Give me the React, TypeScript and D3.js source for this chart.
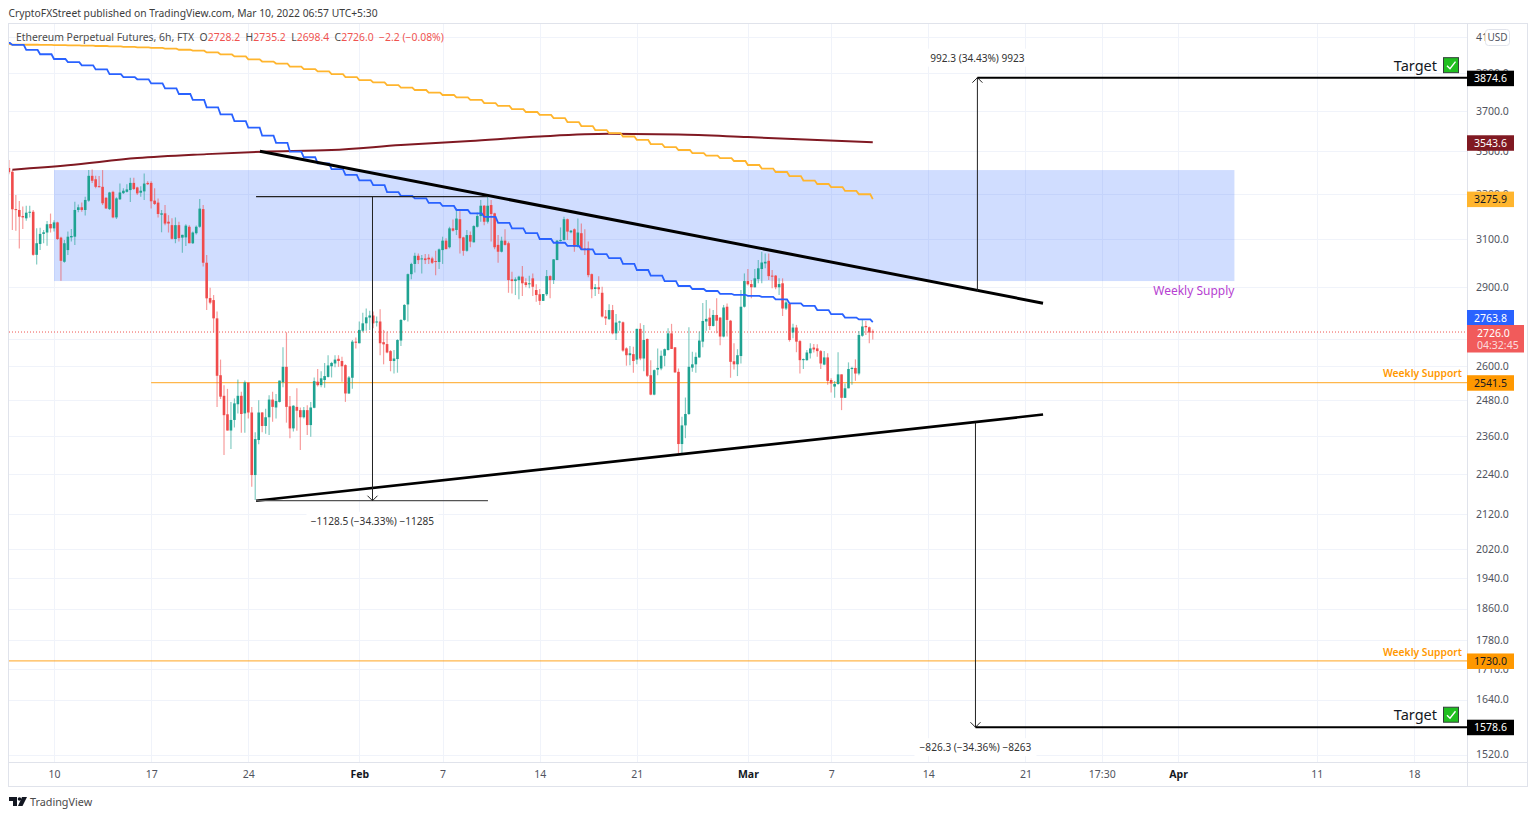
import React, { useEffect, useRef } from 'react';
import * as d3 from 'd3';

// 6h candles, first one is Jan 6 18:00, each row holds ten bars
const highs = [
  3458,3410,3294,3267,3242,3246,3246,3227,3146,3149,
  3139,3178,3211,3182,3175,3110,3096,3132,3143,3264,
  3252,3260,3287,3410,3413,3383,3382,3410,3284,3309,
  3314,3284,3347,3325,3344,3374,3374,3332,3335,3394,
  3358,3358,3325,3279,3227,3249,3204,3190,3194,3175,
  3118,3164,3160,3132,3158,3276,3249,3032,2898,2869,
  2804,2624,2533,2520,2475,2487,2553,2510,2549,2542,
  2458,2373,2481,2441,2452,2498,2510,2502,2549,2669,
  2725,2495,2464,2522,2456,2458,2464,2475,2560,2590,
  2582,2612,2640,2616,2640,2640,2634,2607,2565,2696,
  2705,2766,2800,2816,2807,2804,2785,2813,2734,2728,
  2659,2659,2699,2775,2833,2956,3000,3042,3039,3032,
  3036,3035,3025,3050,3060,3110,3103,3153,3185,3234,
  3227,3110,3139,3132,3160,3216,3272,3249,3287,3272,
  3215,3117,3110,3142,3089,2963,2940,2947,2987,2936,
  2947,2956,2912,2893,2873,2970,2949,3015,3096,3150,
  3197,3189,3139,3146,3189,3167,3142,3089,2956,2913,
  2945,2902,2810,2833,2830,2795,2769,2766,2669,2674,
  2671,2738,2759,2753,2702,2622,2588,2665,2657,2665,
  2740,2757,2669,2592,2425,2490,2744,2653,2650,2728,
  2838,2849,2816,2810,2856,2782,2830,2836,2772,2684,
  2662,2889,2956,2974,2929,2974,3011,3046,3039,3039,
  2970,2950,2936,2936,2849,2837,2757,2753,2696,2628,
  2659,2684,2681,2680,2659,2655,2647,2557,2548,2651,
  2571,2539,2614,2598,2625,2730,2772,2768,2747,2735.2,
];
const lows = [
  3390,3139,3136,3060,3143,3179,3194,3029,2993,3053,
  3082,3071,3128,3132,3096,2926,3000,3032,3089,3075,
  3217,3219,3202,3264,3350,3325,3329,3249,3231,3227,
  3190,3187,3272,3299,3306,3263,3317,3294,3287,3272,
  3340,3234,3249,3194,3129,3160,3128,3098,3082,3089,
  3042,3070,3082,3079,3119,3149,2984,2810,2833,2724,
  2458,2485,2300,2379,2319,2389,2436,2372,2372,2419,
  2201,2161,2334,2373,2368,2364,2408,2419,2473,2526,
  2405,2354,2376,2378,2316,2419,2364,2359,2453,2528,
  2526,2524,2560,2560,2596,2598,2545,2475,2502,2520,
  2665,2684,2725,2731,2734,2740,2747,2640,2607,2647,
  2582,2574,2577,2674,2769,2766,2932,2960,2995,2956,
  2995,2995,2995,2949,2974,2995,3056,3060,3132,3117,
  3039,3029,3046,3065,3085,3150,3175,3160,3167,3089,
  3056,3000,3043,3072,2878,2875,2869,2852,2865,2900,
  2896,2865,2843,2830,2845,2865,2856,2913,3011,3089,
  3093,3096,3125,3046,3064,3053,3032,2940,2856,2865,
  2873,2781,2753,2772,2717,2696,2731,2653,2602,2604,
  2577,2607,2622,2582,2562,2498,2498,2568,2586,2600,
  2657,2663,2577,2305,2300,2354,2431,2580,2577,2631,
  2669,2731,2734,2747,2721,2677,2706,2709,2559,2588,
  2565,2610,2820,2907,2856,2899,2916,2916,2977,2929,
  2896,2892,2869,2787,2810,2690,2703,2651,2574,2590,
  2620,2628,2650,2634,2590,2604,2534,2507,2489,2534,
  2447,2489,2522,2534,2548,2568,2708,2715,2684,2698.4,
];
const opens = [
  3420,3402,3231,3227,3200,3190,3215,3219,3033,3079,
  3122,3128,3165,3146,3172,3106,3004,3053,3107,3110,
  3227,3239,3227,3269,3383,3367,3335,3332,3282,3231,
  3309,3194,3275,3303,3309,3317,3350,3329,3305,3311,
  3350,3350,3269,3260,3206,3212,3175,3160,3100,3160,
  3106,3107,3153,3082,3125,3153,3231,3000,2857,2849,
  2778,2568,2496,2433,2379,2414,2467,2496,2436,2542,
  2439,2237,2348,2439,2394,2423,2483,2456,2475,2543,
  2598,2460,2386,2458,2447,2423,2447,2397,2455,2545,
  2533,2551,2562,2600,2610,2627,2619,2604,2504,2559,
  2690,2684,2731,2759,2781,2789,2763,2766,2688,2681,
  2655,2619,2626,2694,2772,2832,2953,2995,3029,3014,
  3018,3021,3018,3007,3003,3053,3093,3065,3146,3139,
  3186,3107,3050,3117,3086,3153,3200,3246,3175,3249,
  3212,3075,3046,3093,3082,2932,2925,2929,2943,2920,
  2912,2936,2889,2872,2846,2872,2945,2929,3011,3092,
  3096,3186,3129,3142,3067,3125,3060,3060,2953,2893,
  2900,2878,2785,2775,2810,2721,2762,2763,2665,2640,
  2644,2624,2738,2628,2700,2568,2500,2588,2592,2638,
  2659,2721,2669,2580,2335,2396,2434,2595,2607,2632,
  2690,2766,2781,2749,2791,2781,2709,2823,2769,2618,
  2607,2637,2823,2925,2913,2900,2933,2974,2997,3008,
  2947,2947,2900,2916,2816,2834,2724,2743,2692,2622,
  2622,2647,2668,2665,2655,2606,2632,2551,2528,2537,
  2571,2489,2522,2590,2594,2574,2712,2749,2744,2728.2,
];
const closes = [
  3400,3230,3227,3197,3194,3215,3219,3033,3082,3122,
  3129,3164,3146,3172,3100,3008,3082,3110,3113,3227,
  3239,3227,3272,3383,3360,3332,3331,3257,3234,3306,
  3194,3279,3306,3314,3320,3350,3322,3302,3314,3347,
  3344,3266,3254,3209,3212,3167,3167,3101,3160,3104,
  3118,3158,3082,3128,3153,3233,3000,2856,2839,2778,
  2566,2493,2430,2379,2414,2470,2496,2434,2543,2439,
  2237,2351,2439,2394,2423,2483,2458,2478,2549,2598,
  2458,2386,2462,2445,2423,2447,2397,2456,2547,2533,
  2557,2565,2603,2612,2624,2619,2600,2504,2560,2690,
  2686,2734,2759,2782,2789,2759,2766,2684,2680,2650,
  2619,2628,2696,2772,2830,2953,2995,3029,3011,3018,
  3011,3014,3000,3003,3056,3093,3057,3146,3136,3189,
  3103,3050,3117,3089,3156,3200,3246,3175,3246,3209,
  3065,3046,3093,3075,2929,2925,2932,2943,2916,2909,
  2916,2902,2869,2846,2873,2945,2929,3014,3093,3096,
  3186,3132,3136,3067,3128,3056,3053,2949,2892,2900,
  2892,2785,2778,2810,2721,2762,2766,2657,2640,2647,
  2619,2738,2628,2696,2566,2500,2586,2594,2638,2662,
  2721,2663,2578,2335,2396,2434,2598,2607,2634,2694,
  2768,2776,2749,2791,2769,2709,2820,2772,2616,2607,
  2640,2823,2925,2912,2900,2936,2977,3001,3004,2945,
  2943,2900,2913,2816,2840,2696,2743,2690,2622,2626,
  2650,2665,2661,2655,2610,2632,2548,2539,2537,2571,
  2489,2522,2590,2594,2574,2715,2747,2744,2724,2726,
];

// daily stepped moving averages, first value is Jan 6
const blueMa = [
  4065,4054,4026,4002,3976,3959,3941,3919,3894,3878,3866,3844,3818,3788,3757,3719,
  3683,3649,3616,3576,3541,3498,3471,3442,3414,3387,3362,3340,3308,3290,3279,3259,
  3245,3227,3212,3196,3170,3146,3125,3100,3084,3071,3056,3036,3019,2995,2970,2947,
  2925,2905,2893,2885,2874,2870,2866,2862,2852,2836,2826,2810,2794,2781,2774,2763.8,
];
const orangeMa = [
  4058,4056,4055,4054,4053,4052,4050,4048,4046,4043,4040,4037,4033,4027,4022,4012,
  4001,3990,3974,3962,3951,3934,3921,3908,3894,3878,3862,3849,3835,3822,3809,3795,
  3783,3770,3757,3741,3726,3710,3695,3680,3664,3644,3624,3604,3589,3572,3555,3535,
  3520,3506,3491,3479,3467,3453,3434,3417,3401,3382,3361,3345,3331,3313,3298,3275.9,
];
const maroonDays = [-3, 1, 6, 11, 15, 20, 25, 30, 35, 40, 45, 50, 55, 59];
const maroonMa = [3412, 3433, 3467, 3486, 3498, 3506, 3530, 3550, 3572, 3585, 3582, 3569, 3555, 3543.6];

// axis labels
const priceTicks = [4100, 3900, 3700, 3500, 3300, 3100, 2900, 2700, 2600, 2480, 2360, 2240, 2120, 2020, 1940, 1860, 1780, 1710, 1640, 1520];
const hiddenPriceLabels = [2700]; // sits fully behind the last price tag
const timeDays = [0, 7, 14, 22, 28, 35, 42, 50, 56, 63, 70, 75.5, 81, 91, 98];
const timeLabels = ['10', '17', '24', 'Feb', '7', '14', '21', 'Mar', '7', '14', '21', '17:30', 'Apr', '11', '18'];
const boldLabels = ['Feb', 'Mar', 'Apr'];

// drawings, day is counted from Jan 10
const upperTrendDays = [14.84, 71.27];
const upperTrendPrices = [3500, 2837];
const lowerTrendDays = [14.56, 71.27];
const lowerTrendPrices = [2159, 2432];
const supplyDays = [0, 85.06];
const supplyPrices = [3410, 2925];

const FONT = '"Noto Sans", sans-serif';
const RED = '#f04b4b';
const GREEN = '#1fa392';
const JAN10 = Date.UTC(2022, 0, 10);
const dayToDate = (d: number) => new Date(JAN10 + d * 86400000);

const App: React.FC = () => {
  const svgRef = useRef<SVGSVGElement>(null);

  useEffect(() => {
    if (!svgRef.current) return;
    const svg = d3.select(svgRef.current);
    svg.selectAll('*').remove();

    const plot = { left: 9, right: 1467, top: 24, bottom: 762 };
    const x = d3.scaleTime()
      .domain([dayToDate(-3.243), dayToDate(101.82)])
      .range([plot.left, plot.right]);
    const y = d3.scaleLog()
      .domain([4173, 1504.5])
      .range([plot.top, plot.bottom]);
    const xd = (d: number) => x(dayToDate(d));

    svg.append('defs').append('clipPath').attr('id', 'plot-clip')
      .append('rect')
      .attr('x', plot.left).attr('y', plot.top)
      .attr('width', plot.right - plot.left).attr('height', plot.bottom - plot.top);

    svg.append('rect').attr('width', 1536).attr('height', 817).attr('fill', '#fff');

    // grid
    const grid = svg.append('g').attr('stroke', '#f0f3fa').attr('stroke-width', 1);
    priceTicks.forEach(p => {
      const py = Math.round(y(p)) + 0.5;
      grid.append('line').attr('x1', plot.left).attr('x2', plot.right).attr('y1', py).attr('y2', py);
    });
    timeDays.forEach(d => {
      const px = Math.round(xd(d)) + 0.5;
      grid.append('line').attr('x1', px).attr('x2', px).attr('y1', plot.top).attr('y2', plot.bottom);
    });

    const chart = svg.append('g').attr('clip-path', 'url(#plot-clip)');

    // supply zone
    chart.append('rect')
      .attr('x', xd(supplyDays[0]))
      .attr('y', y(supplyPrices[0]))
      .attr('width', xd(supplyDays[1]) - xd(supplyDays[0]))
      .attr('height', y(supplyPrices[1]) - y(supplyPrices[0]))
      .attr('fill', '#2962ff')
      .attr('fill-opacity', 0.22);

    // horizontal support lines
    chart.append('line')
      .attr('x1', xd(7)).attr('x2', plot.right)
      .attr('y1', y(2541.5)).attr('y2', y(2541.5))
      .attr('stroke', '#ff9800').attr('stroke-opacity', 0.7).attr('stroke-width', 1.2);
    chart.append('line')
      .attr('x1', plot.left).attr('x2', plot.right)
      .attr('y1', y(1730)).attr('y2', y(1730))
      .attr('stroke', '#ff9800').attr('stroke-opacity', 0.7).attr('stroke-width', 1.2);

    // last price line
    chart.append('line')
      .attr('x1', plot.left).attr('x2', plot.right)
      .attr('y1', y(2726)).attr('y2', y(2726))
      .attr('stroke', '#ef5350').attr('stroke-width', 1).attr('stroke-dasharray', '1,2');

    // candles
    highs.forEach((h, i) => {
      const cx = xd((i - 13) / 4);
      const color = closes[i] >= opens[i] ? GREEN : RED;
      const top = Math.max(opens[i], closes[i]);
      const bottom = Math.min(opens[i], closes[i]);
      chart.append('line')
        .attr('x1', cx).attr('x2', cx)
        .attr('y1', y(h)).attr('y2', y(lows[i]))
        .attr('stroke', color).attr('stroke-opacity', 0.55).attr('stroke-width', 1.2);
      chart.append('rect')
        .attr('x', cx - 1.3)
        .attr('y', y(top))
        .attr('width', 2.6)
        .attr('height', Math.max(1, y(bottom) - y(top)))
        .attr('fill', color);
    });

    // stepped averages hold their value most of the day, then move to the next one
    const stepped = (values: number[]) => {
      const pts: [number, number][] = [];
      values.forEach((v, i) => {
        const day = i - 4;
        pts.push([xd(i === 0 ? -3.243 : day), y(v)]);
        if (i < values.length - 1) pts.push([xd(day + 0.82), y(v)]);
      });
      return pts;
    };
    const straight = d3.line();
    chart.append('path')
      .attr('d', d3.line().curve(d3.curveMonotoneX)(maroonMa.map((v, i) => [xd(maroonDays[i]), y(v)] as [number, number])))
      .attr('fill', 'none').attr('stroke', '#801922').attr('stroke-width', 2);
    chart.append('path')
      .attr('d', straight(stepped(orangeMa)))
      .attr('fill', 'none').attr('stroke', '#ffb52e').attr('stroke-width', 1.8);
    chart.append('path')
      .attr('d', straight(stepped(blueMa)))
      .attr('fill', 'none').attr('stroke', '#2962ff').attr('stroke-width', 1.8);

    // trend lines
    chart.append('line')
      .attr('x1', xd(upperTrendDays[0])).attr('x2', xd(upperTrendDays[1]))
      .attr('y1', y(upperTrendPrices[0])).attr('y2', y(upperTrendPrices[1]))
      .attr('stroke', '#000').attr('stroke-width', 3);
    chart.append('line')
      .attr('x1', xd(lowerTrendDays[0])).attr('x2', xd(lowerTrendDays[1]))
      .attr('y1', y(lowerTrendPrices[0])).attr('y2', y(lowerTrendPrices[1]))
      .attr('stroke', '#000').attr('stroke-width', 2.6);

    // price range tools
    const thin = (d1: number, p1: number, d2: number, p2: number, w = 1, color = '#222') => {
      chart.append('line')
        .attr('x1', xd(d1)).attr('x2', xd(d2))
        .attr('y1', y(p1)).attr('y2', y(p2))
        .attr('stroke', color).attr('stroke-width', w);
    };
    const arrow = (d: number, p: number, dir: number) => {
      const ax = xd(d);
      const ay = y(p);
      chart.append('path')
        .attr('d', `M${ax - 5},${ay + dir * 5}L${ax},${ay}L${ax + 5},${ay + dir * 5}`)
        .attr('fill', 'none').attr('stroke', '#222').attr('stroke-width', 1);
    };
    const rangeLabel = (d: number, p: number, dy: number, label: string, w: number) => {
      chart.append('rect')
        .attr('x', xd(d) - w / 2).attr('y', y(p) + dy - 9)
        .attr('width', w).attr('height', 18).attr('fill', '#fff');
      chart.append('text')
        .attr('x', xd(d)).attr('y', y(p) + dy + 4)
        .attr('text-anchor', 'middle')
        .attr('font-family', FONT).attr('font-size', 10.1).attr('fill', '#333')
        .text(label);
    };

    thin(14.56, 3287.5, 31.27, 3287.5, 1.2);
    thin(14.56, 2159, 31.27, 2159, 1.2, '#555');
    thin(22.95, 3287.5, 22.95, 2159);
    arrow(22.95, 2159, -1);
    rangeLabel(22.95, 2159, 20, '\u22121128.5 (\u221234.33%) \u221211285', 132);

    thin(66.54, 2882.3, 66.54, 3874.6);
    arrow(66.54, 3874.6, 1);
    thin(66.54, 3874.6, 101.82, 3874.6, 2, '#000');
    rangeLabel(66.54, 3874.6, -20, '992.3 (34.43%) 9923', 104);

    thin(66.4, 2404.9, 66.4, 1578.6);
    arrow(66.4, 1578.6, -1);
    thin(66.4, 1578.6, 101.82, 1578.6, 2, '#000');
    rangeLabel(66.4, 1578.6, 20, '\u2212826.3 (\u221234.36%) \u22128263', 122);

    // text notes on the chart
    const note = (px: number, py: number, label: string, color: string, size: number, weight = 400) => {
      svg.append('text')
        .attr('x', px).attr('y', py)
        .attr('text-anchor', 'end')
        .attr('font-family', FONT).attr('font-size', size).attr('font-weight', weight)
        .attr('fill', color)
        .text(label);
    };
    note(xd(85.06), y(2925) + 14, 'Weekly Supply', '#b63fd1', 12);
    note(1462, y(2541.5) - 6, 'Weekly Support', '#ff9800', 10.3, 600);
    note(1462, y(1730) - 5, 'Weekly Support', '#ff9800', 10.3, 600);

    [3874.6, 1578.6].forEach(p => {
      const ty = y(p) - 12;
      note(1437, ty + 5, 'Target', '#131722', 14.5);
      svg.append('rect')
        .attr('x', 1443.5).attr('y', ty - 8).attr('width', 15).attr('height', 15)
        .attr('fill', '#1fbf1f').attr('stroke', '#33413a').attr('stroke-width', 1);
      svg.append('path')
        .attr('d', `M1447,${ty}L1450,${ty + 3}L1455.5,${ty - 4}`)
        .attr('fill', 'none').attr('stroke', '#fff').attr('stroke-width', 1.4);
    });

    // axes
    const timeAxis = svg.append('g')
      .attr('transform', `translate(0,${plot.bottom})`)
      .call(d3.axisBottom(x)
        .tickValues(timeDays.map(dayToDate))
        .tickFormat((_, i) => timeLabels[i])
        .tickSize(0)
        .tickPadding(9));
    timeAxis.select('.domain').remove();
    timeAxis.selectAll('text')
      .attr('font-family', FONT)
      .attr('font-size', 10.5)
      .attr('font-weight', (_, i) => boldLabels.includes(timeLabels[i]) ? 700 : 400)
      .attr('fill', (_, i) => boldLabels.includes(timeLabels[i]) ? '#131722' : '#50535e');

    const priceAxis = svg.append('g')
      .attr('transform', `translate(${plot.right},0)`)
      .call(d3.axisRight(y)
        .tickValues(priceTicks)
        .tickFormat(d => hiddenPriceLabels.includes(+d) ? '' : d3.format('.1f')(+d))
        .tickSize(0)
        .tickPadding(9));
    priceAxis.select('.domain').remove();
    priceAxis.selectAll('text')
      .attr('font-family', FONT)
      .attr('font-size', 10.5)
      .attr('fill', '#50535e');

    // frame
    const frame = svg.append('g').attr('stroke', '#e0e3eb').attr('stroke-width', 1).attr('fill', 'none');
    frame.append('rect').attr('x', 8.5).attr('y', 23.5).attr('width', 1519).attr('height', 763);
    frame.append('line').attr('x1', 1467.5).attr('x2', 1467.5).attr('y1', 24).attr('y2', 786);
    frame.append('line').attr('x1', 9).attr('x2', 1527).attr('y1', 762.5).attr('y2', 762.5);

    // price tags
    const tag = (py: number, label: string, bg: string, fg: string) => {
      svg.append('rect')
        .attr('x', 1467).attr('y', py - 8).attr('width', 47).attr('height', 15.5).attr('fill', bg);
      svg.append('text')
        .attr('x', 1490.5).attr('y', py + 3.7)
        .attr('text-anchor', 'middle')
        .attr('font-family', FONT).attr('font-size', 10.5).attr('fill', fg)
        .text(label);
    };
    tag(y(3874.6) + 1, '3874.6', '#000', '#fff');
    tag(y(3543.6) + 1, '3543.6', '#801922', '#fff');
    tag(y(3275.9) + 0.5, '3275.9', '#ffb52e', '#131722');
    tag(318, '2763.8', '#2962ff', '#fff');
    svg.append('rect').attr('x', 1467).attr('y', 325).attr('width', 57).attr('height', 27.5).attr('fill', '#f15b5b');
    svg.append('text').attr('x', 1477).attr('y', 337)
      .attr('font-family', FONT).attr('font-size', 10.5).attr('fill', '#fff').text('2726.0');
    svg.append('text').attr('x', 1477).attr('y', 349)
      .attr('font-family', FONT).attr('font-size', 10.5).attr('fill', '#fff').attr('fill-opacity', 0.8).text('04:32:45');
    tag(y(2541.5) + 0.5, '2541.5', '#ff9800', '#131722');
    tag(y(1730) + 0.5, '1730.0', '#ff9800', '#131722');
    tag(y(1578.6) + 0.5, '1578.6', '#000', '#fff');

    // currency button
    svg.append('rect')
      .attr('x', 1485.5).attr('y', 29.5).attr('width', 24).attr('height', 16).attr('rx', 3)
      .attr('fill', '#fff').attr('stroke', '#e0e3eb');
    svg.append('text')
      .attr('x', 1497.5).attr('y', 41)
      .attr('text-anchor', 'middle')
      .attr('font-family', FONT).attr('font-size', 10).attr('fill', '#50535e')
      .text('USD');

    // header and legend
    svg.append('text')
      .attr('x', 8.5).attr('y', 17)
      .attr('font-family', FONT).attr('font-size', 10.3).attr('fill', '#3c3c3c')
      .text('CryptoFXStreet published on TradingView.com, Mar 10, 2022 06:57 UTC+5:30');

    const legend = svg.append('text')
      .attr('x', 16).attr('y', 41)
      .attr('font-family', FONT).attr('font-size', 10.4).attr('fill', '#4a4a4a');
    const legendParts: [string, string][] = [
      ['Ethereum Perpetual Futures, 6h, FTX  O', '#4a4a4a'], ['2728.2', '#ef5350'],
      ['  H', '#4a4a4a'], ['2735.2', '#ef5350'],
      ['  L', '#4a4a4a'], ['2698.4', '#ef5350'],
      ['  C', '#4a4a4a'], ['2726.0', '#ef5350'],
      ['  \u22122.2 (\u22120.08%)', '#ef5350'],
    ];
    legendParts.forEach(([t, c]) => {
      legend.append('tspan').attr('fill', c).attr('xml:space', 'preserve').style('white-space', 'pre').text(t);
    });

    // footer logo
    const logo = svg.append('g').attr('fill', '#131722');
    logo.append('path').attr('d', 'M9,797H17V806H13V801H9Z');
    logo.append('circle').attr('cx', 19.5).attr('cy', 799).attr('r', 1.8);
    logo.append('path').attr('d', 'M22,797H27L22.5,806H18Z');
    svg.append('text')
      .attr('x', 30).attr('y', 806)
      .attr('font-family', FONT).attr('font-size', 10.8).attr('fill', '#4a4a4a')
      .text('TradingView');
  }, []);

  return (
    <svg
      ref={svgRef}
      width={1536}
      height={817}
      style={{ position: 'absolute', left: 0, top: 0, display: 'block' }}
    />
  );
};

export default App;
